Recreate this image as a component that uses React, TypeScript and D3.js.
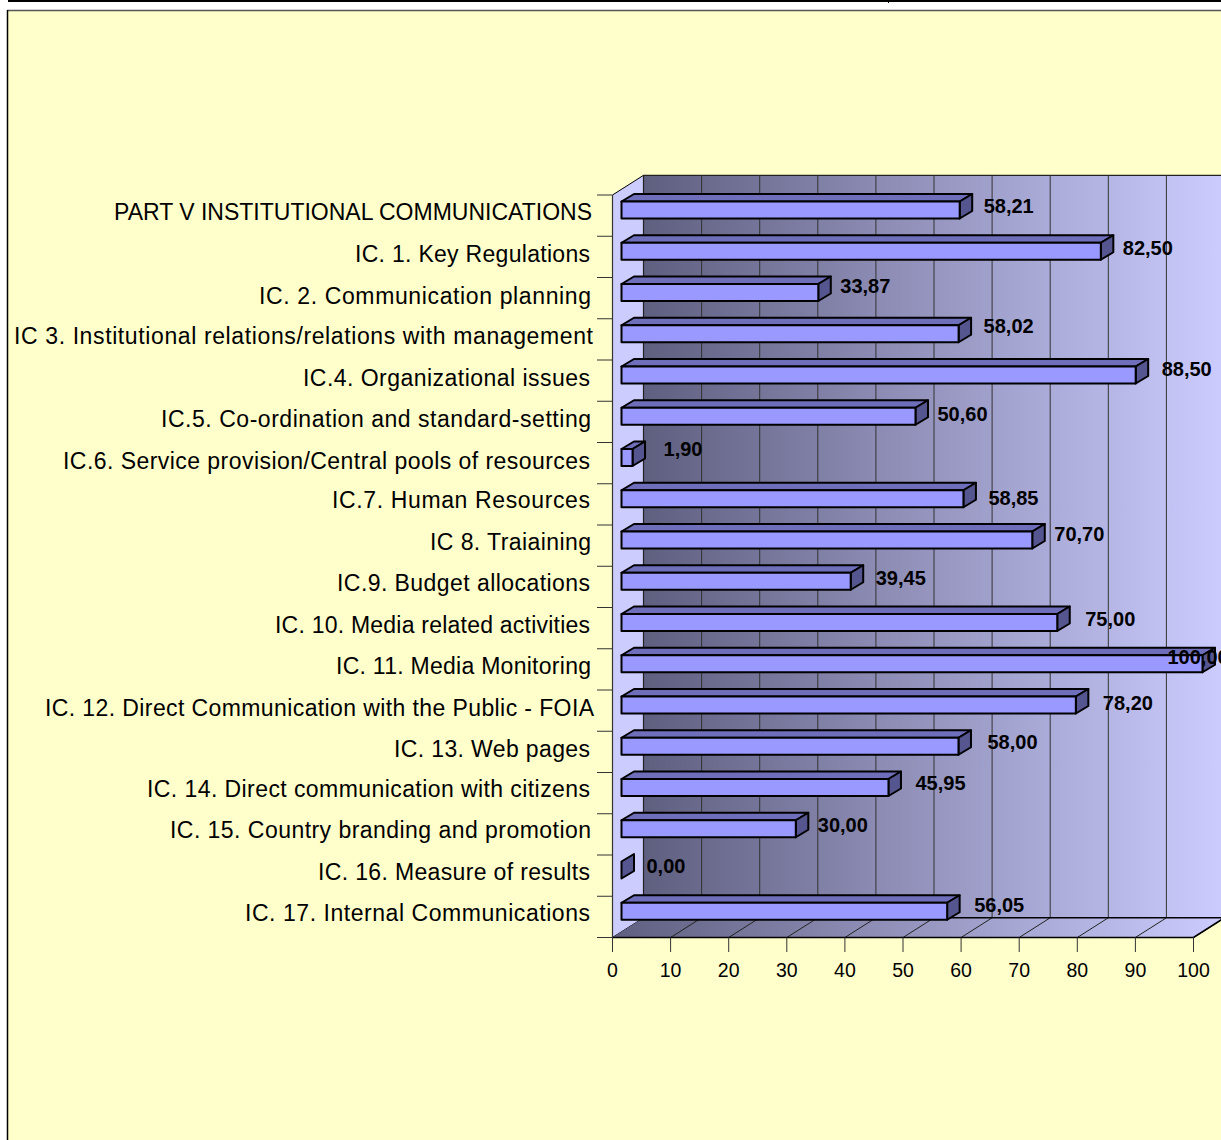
import React from "react";
import * as d3 from "d3";

const categories = [
  "PART V INSTITUTIONAL COMMUNICATIONS","IC. 1. Key Regulations","IC. 2. Communication planning",
  "IC 3. Institutional relations/relations with management","IC.4. Organizational issues",
  "IC.5. Co-ordination and standard-setting","IC.6. Service provision/Central pools of resources",
  "IC.7. Human Resources","IC 8. Traiaining","IC.9. Budget allocations","IC. 10. Media related activities",
  "IC. 11. Media Monitoring","IC. 12. Direct Communication with the Public - FOIA","IC. 13. Web pages",
  "IC. 14. Direct communication with citizens","IC. 15. Country branding and promotion",
  "IC. 16. Measure of results","IC. 17. Internal Communications",
];
const values = [58.21,82.5,33.87,58.02,88.5,50.6,1.9,58.85,70.7,39.45,75,100,78.2,58,45.95,30,0,56.05];
const valueLabels = ["58,21","82,50","33,87","58,02","88,50","50,60","1,90","58,85","70,70","39,45","75,00","100,00","78,20","58,00","45,95","30,00","0,00","56,05"];
const tickValues = [0,10,20,30,40,50,60,70,80,90,100];

// Label placement nudges, as the original chart scatters them
const labelDx = [24,22,22,25,26,22,31,25,22,25,28,-35,27,29,27,22,25,27];
const labelDy = [11,12,8.5,8,9,13,6.5,15,9,12,12,9,13,11,11,12,11,9];
const catStart = [114,355,259,14,303,161,63,332,430,337,275,336,45,394,147,170,318,245];
const catEnd = [592,590,591,593,590,591,590,590,591,590,590,591,594,590,590,591,590,590];
const catDy = [17,18,18.5,18,18.5,18,19,17,17.5,17,17.5,18,18.5,18,16.5,17,17,17.5];

const FRONT_L = 612.5, FRONT_R = 1193.5, TOP = 195, BOTTOM = 937.5;
const DEPTH_X = 31, DEPTH_Y = 19.7;
const BAR_X = 9, BAR_DX = 12.5, BAR_DY = 7.5;

const x = d3.scaleLinear().domain([0, 100]).range([FRONT_L, FRONT_R]);
const band = d3.scaleBand<number>().domain(d3.range(categories.length)).range([TOP, BOTTOM]);
const poly = (p: number[][]) => (d3.line()(p as [number, number][]) as string) + "Z";
const ARIAL = "'Liberation Sans', Arial, sans-serif";

export default function App() {
  const backL = FRONT_L + DEPTH_X, backR = FRONT_R + DEPTH_X;
  const backT = TOP - DEPTH_Y, backB = BOTTOM - DEPTH_Y;
  return (
    <svg width={1221} height={1140} style={{ position: "fixed", left: 0, top: 0, background: "#fff" }}>
      <defs>
        <linearGradient id="wall" gradientUnits="userSpaceOnUse" x1={backL} x2={backR} y1={0} y2={0}>
          <stop offset="0" stopColor="#5f5f80" /><stop offset="1" stopColor="#ccccff" />
        </linearGradient>
        <linearGradient id="floor" gradientUnits="userSpaceOnUse" x1={FRONT_L} x2={backR} y1={0} y2={0}>
          <stop offset="0" stopColor="#5f5f80" /><stop offset="1" stopColor="#ccccff" />
        </linearGradient>
      </defs>

      <rect x={8} y={11} width={1213} height={1129} fill="#ffffcc" />
      <line x1={7} x2={1221} y1={10.5} y2={10.5} stroke="#555" strokeWidth={1.5} />
      <line x1={7.5} x2={7.5} y1={10} y2={1140} stroke="#000" strokeWidth={1.5} />
      <line x1={8} x2={1221} y1={1} y2={1} stroke="#000" strokeWidth={2} />
      <line x1={888.5} x2={888.5} y1={0} y2={3} stroke="#000" strokeWidth={1} />

      <rect x={backL} y={backT} width={backR - backL} height={backB - backT} fill="url(#wall)" />
      <path d={poly([[FRONT_L, TOP], [backL, backT], [backL, backB], [FRONT_L, BOTTOM]])} fill="#ccccff" stroke="#000" strokeWidth={1} />
      <path d={poly([[FRONT_L, BOTTOM], [backL, backB], [backR, backB], [FRONT_R, BOTTOM]])} fill="url(#floor)" />
      <line x1={backL} x2={1221} y1={backT} y2={backT} stroke="#222" strokeWidth={1.2} />

      {tickValues.slice(1).map((t) => (
        <g key={t}>
          <line x1={x(t) + DEPTH_X} x2={x(t) + DEPTH_X} y1={backT} y2={backB} stroke="#333" strokeWidth={1} />
          <line x1={x(t)} x2={x(t) + DEPTH_X} y1={BOTTOM} y2={backB} stroke="#222" strokeWidth={1} />
        </g>
      ))}
      <line x1={backL} x2={backL} y1={backT} y2={backB} stroke="#222" strokeWidth={1.2} />
      <line x1={backL} x2={1221} y1={backB} y2={backB} stroke="#000" strokeWidth={1.6} />
      <line x1={FRONT_R} x2={backR} y1={BOTTOM} y2={backB} stroke="#000" strokeWidth={1.6} />
      <line x1={FRONT_L} x2={FRONT_R} y1={BOTTOM} y2={BOTTOM} stroke="#000" strokeWidth={1.4} />
      <line x1={FRONT_L} x2={FRONT_L} y1={TOP} y2={BOTTOM} stroke="#333" strokeWidth={1.2} />

      {d3.range(categories.length + 1).map((i) => {
        const y = TOP + i * band.step();
        return <line key={i} x1={597} x2={FRONT_L} y1={y} y2={y} stroke="#333" strokeWidth={1} />;
      })}
      {tickValues.map((t) => (
        <g key={t}>
          <line x1={x(t)} x2={x(t)} y1={BOTTOM} y2={952} stroke="#333" strokeWidth={1} />
          <text x={x(t)} y={977} textAnchor="middle" fontFamily={ARIAL} fontSize={19.5} fill="#000">{t}</text>
        </g>
      ))}

      {values.map((v, i) => {
        const row = band(i) as number;
        const l = FRONT_L + BAR_X;
        const r = l + (x(v) - x(0));
        const t = row + 6.5, b = row + 23.5;
        const edge = { stroke: "#000", strokeWidth: 2, strokeLinejoin: "round" as const };
        return (
          <g key={i}>
            {v > 0 && <path d={poly([[l, t], [l + BAR_DX, t - BAR_DY], [r + BAR_DX, t - BAR_DY], [r, t]])} fill="#6e6ebb" {...edge} />}
            <path d={poly([[r, t], [r + BAR_DX, t - BAR_DY], [r + BAR_DX, b - BAR_DY], [r, b]])} fill="#55558f" {...edge} />
            {v > 0 && <rect x={l} y={t} width={r - l} height={b - t} fill="#9999ff" {...edge} />}
          </g>
        );
      })}

      {categories.map((c, i) => (
        <text key={c} x={catStart[i]} y={(band(i) as number) + catDy[i] + 7.5} textLength={catEnd[i] - catStart[i]} lengthAdjust="spacing" fontFamily={ARIAL} fontSize={23} fill="#000">{c}</text>
      ))}
      {values.map((v, i) => (
        <text key={i} x={FRONT_L + BAR_X + (x(v) - x(0)) + labelDx[i]} y={(band(i) as number) + labelDy[i] + 6.5} fontFamily={ARIAL} fontWeight="bold" fontSize={20} fill="#000">{valueLabels[i]}</text>
      ))}
    </svg>
  );
}
